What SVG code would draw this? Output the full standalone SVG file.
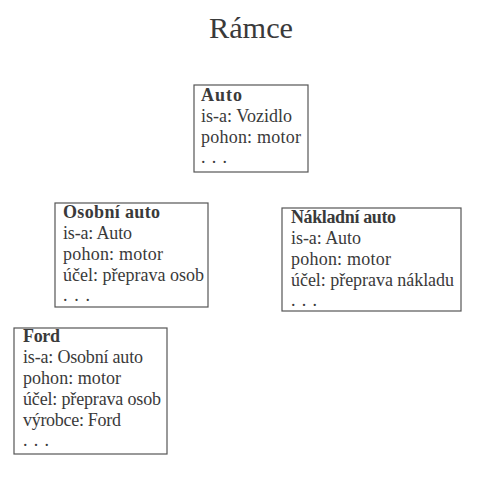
<svg xmlns="http://www.w3.org/2000/svg" width="480" height="502" viewBox="0 0 480 502">
<style>
.box{fill:#fff;stroke:#555;stroke-width:1.2}
text{font-family:"Liberation Serif","DejaVu Serif",serif;font-size:18px;fill:#3a3a3a}
.h{font-weight:bold}
.t{font-size:30px}
</style>
<rect width="480" height="502" fill="#fff"/>
<text class="t" x="251" y="38" text-anchor="middle" textLength="84" lengthAdjust="spacingAndGlyphs">Rámce</text>
<g id="connectors"></g>
<g id="auto">
<rect class="box" x="194" y="85" width="114" height="87"/>
<text class="h" x="201" y="101" textLength="41">Auto</text>
<text x="201" y="122" textLength="91">is-a: Vozidlo</text>
<text x="201" y="143" textLength="100">pohon: motor</text>
<text x="201" y="163" textLength="26">. . .</text>
</g>
<g id="osobni-auto">
<rect class="box" x="55" y="203" width="153" height="104"/>
<text class="h" x="63" y="218" textLength="97">Osobní auto</text>
<text x="63" y="239" textLength="69">is-a: Auto</text>
<text x="63" y="260" textLength="100">pohon: motor</text>
<text x="63" y="281" textLength="141">účel: přeprava osob</text>
<text x="63" y="301" textLength="27">. . .</text>
</g>
<g id="nakladni-auto">
<rect class="box" x="282" y="208" width="179" height="103"/>
<text class="h" x="291" y="223" textLength="105">Nákladní auto</text>
<text x="291" y="244" textLength="70">is-a: Auto</text>
<text x="291" y="265" textLength="100">pohon: motor</text>
<text x="291" y="286" textLength="163">účel: přeprava nákladu</text>
<text x="291" y="306" textLength="26">. . .</text>
</g>
<g id="ford">
<rect class="box" x="14" y="328" width="153" height="126"/>
<text class="h" x="23" y="342" textLength="37">Ford</text>
<text x="23" y="363" textLength="120">is-a: Osobní auto</text>
<text x="23" y="384" textLength="98">pohon: motor</text>
<text x="23" y="405" textLength="138">účel: přeprava osob</text>
<text x="23" y="426" textLength="98">výrobce: Ford</text>
<text x="23" y="446" textLength="26">. . .</text>
</g>
</svg>
